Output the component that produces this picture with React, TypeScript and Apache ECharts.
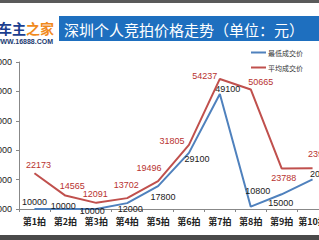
import React, { useEffect, useRef } from "react";
import * as echarts from "echarts";

const categories = ["第1拍", "第2拍", "第3拍", "第4拍", "第5拍", "第6拍", "第7拍", "第8拍", "第9拍", "第10拍"];
const minPrices = [10000, 10000, 10000, 12000, 17800, 29100, 49100, 10800, 15000, 20100];
const avgPrices = [22173, 14565, 12091, 13702, 19496, 31805, 54237, 50665, 23788, 23900];
const yTicks = [10000, 20000, 30000, 40000, 50000, 60000];
const titleText = "深圳个人竞拍价格走势（单位：元）";
const legendNames = ["最低成交价", "平均成交价"];

// label offsets (layout only)
const minLabelOffsets = [[0, -7], [-2, -3], [-4, 2], [3, 6], [5, 11], [8, 6], [8, -5], [7, -16], [-1, 9], [10, -5]];
const avgLabelOffsets = [[4, -8], [7, -10], [-1, -9], [-1, -13], [-9, -13], [-17, -4], [-15, -3], [10, -7], [2, 10], [8, -14]];

export default function App() {
  const ref = useRef<HTMLDivElement>(null);
  useEffect(() => {
    if (!ref.current) return;
    const chart = echarts.init(ref.current, undefined, { renderer: "svg" });
    const blue = "#4f81bd";
    const red = "#c0504d";
    const mk = (vals: number[], offs: number[][]) =>
      vals.map((v, i) => ({
        value: v,
        label: { offset: offs[i] },
      }));
    chart.setOption({
      animation: false,
      backgroundColor: "#ffffff",
      grid: { left: 19, top: 62, bottom: 31, right: -9, containLabel: false, outerBoundsMode: "none" },
      legend: {
        orient: "vertical",
        left: 246,
        top: 44,
        itemWidth: 15,
        itemHeight: 2,
        itemGap: 8,
        icon: "rect",
        textStyle: { fontSize: 7, color: "#333", fontFamily: "Noto Sans CJK SC", padding: [0, 0, 0, -3] },
        data: legendNames,
      },
      xAxis: {
        type: "category",
        data: categories,
        boundaryGap: true,
        axisLine: { lineStyle: { color: "#888", width: 1 } },
        axisTick: { show: true, length: 3, lineStyle: { color: "#888" } },
        axisLabel: { fontSize: 9, color: "#222", margin: 8, fontFamily: "Noto Sans CJK SC", fontWeight: "bold", interval: 0 },
      },
      yAxis: {
        type: "value",
        min: yTicks[0],
        max: yTicks[yTicks.length - 1],
        interval: 10000,
        axisLine: { show: true, lineStyle: { color: "#888" } },
        axisTick: { show: true, length: 3, lineStyle: { color: "#888" } },
        splitLine: { show: false },
        axisLabel: { fontSize: 9, color: "#222", margin: 7, fontFamily: "Arial, Liberation Sans", formatter: (v: number) => String(v) },
      },
      series: [
        {
          name: legendNames[0],
          type: "line",
          data: mk(minPrices, minLabelOffsets),
          symbol: "circle",
          symbolSize: 0.1,
          lineStyle: { color: blue, width: 2 },
          itemStyle: { color: blue },
          label: { show: true, position: "inside", fontSize: 9, color: "#1a1a1a", fontFamily: "Arial, Liberation Sans" },
          z: 3,
        },
        {
          name: legendNames[1],
          type: "line",
          data: mk(avgPrices, avgLabelOffsets),
          symbol: "circle",
          symbolSize: 0.1,
          lineStyle: { color: red, width: 2 },
          itemStyle: { color: red },
          label: { show: true, position: "inside", fontSize: 9, color: "#b8322f", fontFamily: "Arial, Liberation Sans" },
          z: 2,
        },
      ],
      graphic: [
        { type: "rect", shape: { x: 0, y: 0, width: 319, height: 3 }, style: { fill: "#5a5a5a" } },
        { type: "rect", shape: { x: 0, y: 235, width: 319, height: 5 }, style: { fill: "#4a4a4a" } },
        { type: "rect", shape: { x: 59, y: 16, width: 260, height: 25 }, style: { fill: "#1e6fbf" } },
        {
          type: "text",
          x: 64,
          y: 29,
          style: { text: titleText, fill: "#ffffff", fontSize: 15, fontFamily: "Noto Sans CJK SC", verticalAlign: "middle", align: "left" },
        },
        {
          type: "text",
          x: 54,
          y: 28,
          style: {
            text: "{a|车主}{b|之家}",
            align: "right",
            verticalAlign: "middle",
            rich: {
              a: { fontSize: 14, fontWeight: "bold", fill: "#1c3f8f", fontFamily: "Noto Sans CJK SC", lineHeight: 14 },
              b: { fontSize: 14, fontWeight: "bold", fill: "#f08a1d", fontFamily: "Noto Sans CJK SC", lineHeight: 14 },
            },
          },
        },
        {
          type: "text",
          x: 53,
          y: 41,
          style: { text: "WWW.16888.COM", fill: "#1c3a70", fontSize: 7, fontWeight: "bold", fontFamily: "Arial, Liberation Sans", align: "right", verticalAlign: "middle" },
        },
      ],
    });
    return () => chart.dispose();
  }, []);
  return <div ref={ref} style={{ position: "fixed", left: 0, top: 0, width: 319, height: 240 }} />;
}
